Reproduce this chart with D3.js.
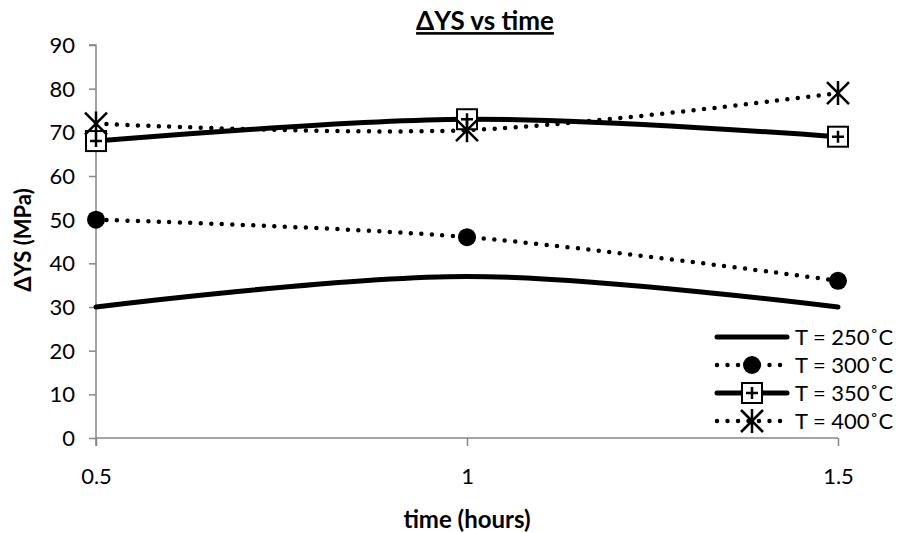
<!DOCTYPE html>
<html><head><meta charset="utf-8">
<script src="https://cdn.jsdelivr.net/npm/d3@7"></script>
<style>
html,body{margin:0;padding:0;background:#fff;}
svg{display:block;font-family:Lato,"Open Sans",sans-serif;}
</style></head>
<body><svg id="c" width="899" height="533"></svg>
<script>
const times = [0.5, 1, 1.5];
const xTicks = [0.5, 1, 1.5];
const xTickLabels = ["0.5", "1", "1.5"];
const yTicks = [0,10,20,30,40,50,60,70,80,90];
const seriesNames = ["T = 250˚C", "T = 300˚C", "T = 350˚C", "T = 400˚C"];
const t250 = [30, 37, 30];
const t300 = [50, 46, 36];
const t350 = [68, 73, 69];
const t400 = [72, 70.5, 79];
const title = "ΔYS vs time";
const xTitle = "time (hours)";
const yTitle = "ΔYS (MPa)";

const series = [
  {name: seriesNames[0], values: t250, dotted: false, marker: "none"},
  {name: seriesNames[1], values: t300, dotted: true, marker: "circle"},
  {name: seriesNames[2], values: t350, dotted: false, marker: "square"},
  {name: seriesNames[3], values: t400, dotted: true, marker: "star"}
];

const svg = d3.select("#c");
const x = d3.scaleLinear().domain([0.5, 1.5]).range([96, 838]);
const y = d3.scaleLinear().domain([0, 90]).range([438, 45]);
const axisColor = "#868686";

const yAxis = svg.append("g").attr("transform", "translate(96,0)")
  .call(d3.axisLeft(y).tickValues(yTicks).tickSize(7).tickPadding(14).tickFormat(d3.format("d")));
const xAxis = svg.append("g").attr("transform", "translate(0,438)")
  .call(d3.axisBottom(x).tickValues(xTicks).tickSize(8).tickPadding(22).tickFormat((d,i)=>xTickLabels[i]));
[yAxis, xAxis].forEach(g=>{
  g.select(".domain").attr("stroke", axisColor).attr("stroke-width", 1.5);
  g.selectAll(".tick line").attr("stroke", axisColor).attr("stroke-width", 1.5);
  g.selectAll(".tick text").attr("fill", "#000").style("font-size", "22px").style("font-family", "Lato");
});
xAxis.select(".domain").attr("d", "M96,0H838");
yAxis.select(".domain").attr("d", "M-7,45H0V446");
yAxis.selectAll(".tick text").attr("dy", "0.34em");

const line = d3.line().x((d,i)=>x(times[i])).y(d=>y(d)).curve(d3.curveCardinal.tension(0));

function styleLine(sel, dotted){
  sel.attr("fill","none").attr("stroke","#000").attr("stroke-width", dotted?4.5:5)
    .attr("stroke-linecap","round");
  if (dotted) sel.attr("stroke-dasharray","0 10.5");
}

function drawMarker(g, type, cx, cy){
  if (type === "circle") {
    g.append("circle").attr("cx",cx).attr("cy",cy).attr("r",9).attr("fill","#000");
  } else if (type === "square") {
    g.append("rect").attr("x",cx-10).attr("y",cy-10).attr("width",20).attr("height",20)
      .attr("fill","#fff").attr("stroke","#000").attr("stroke-width",2);
    g.append("path").attr("d",`M${cx-6},${cy}H${cx+6}M${cx},${cy-6}V${cy+6}`)
      .attr("stroke","#000").attr("stroke-width",2.5);
  } else if (type === "star") {
    const s = 11;
    g.append("path").attr("d",`M${cx-s},${cy-s}L${cx+s},${cy+s}M${cx-s},${cy+s}L${cx+s},${cy-s}M${cx},${cy-s-1}V${cy+s+1}`)
      .attr("stroke","#000").attr("stroke-width",2.5).attr("fill","none");
  }
}

series.forEach(s=>{
  const p = svg.append("path").attr("d", line(s.values));
  styleLine(p, s.dotted);
});
series.forEach(s=>{
  const g = svg.append("g");
  s.values.forEach((v,i)=>drawMarker(g, s.marker, x(times[i]), y(v)));
});

const legY = [337, 365, 393, 421];
series.forEach((s,i)=>{
  const g = svg.append("g");
  const p = g.append("path").attr("d", `M717,${legY[i]}H787`);
  styleLine(p, s.dotted);
  drawMarker(g, s.marker, 752, legY[i]);
  g.append("text").attr("x", 795).attr("y", legY[i]).attr("dy","0.35em")
    .style("font-size","22px").text(s.name);
});

svg.append("text").attr("x", 485).attr("y", 21).attr("dy","0.35em").attr("text-anchor","middle")
  .style("font-size","26px").style("font-weight","bold").style("text-decoration","underline").text(title);
svg.append("text").attr("x", 467).attr("y", 520).attr("dy","0.35em").attr("text-anchor","middle")
  .style("font-size","24px").style("font-weight","bold").text(xTitle);
svg.append("text").attr("transform","translate(23,240) rotate(-90)").attr("dy","0.35em").attr("text-anchor","middle")
  .style("font-size","22px").style("font-weight","bold").text(yTitle);
</script></body></html>
